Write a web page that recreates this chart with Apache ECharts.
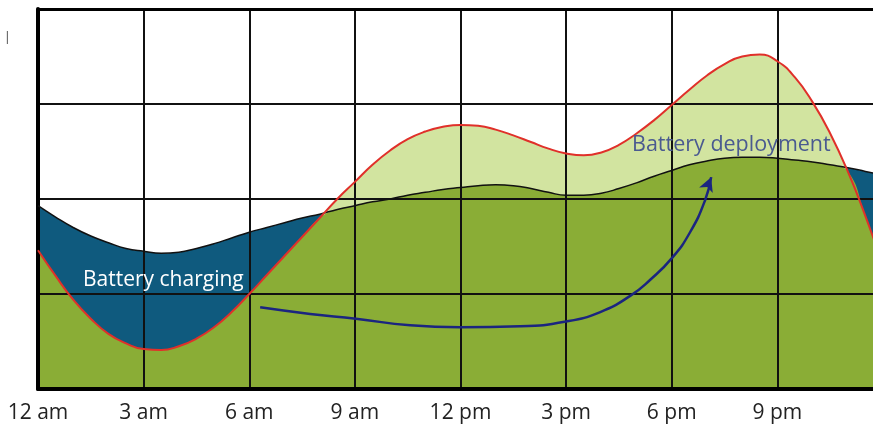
<!DOCTYPE html>
<html>
<head>
<meta charset="utf-8">
<script src="https://cdn.jsdelivr.net/npm/echarts@6/dist/echarts.min.js"></script>
<style>
html,body{margin:0;padding:0;background:#ffffff;}
#c{width:873px;height:425px;}
</style>
</head>
<body>
<div id="c"></div>
<script>
// Hours of the day (x values, every half hour)
const hours = [0,0.5,1,1.5,2,2.5,3,3.5,4,4.5,5,5.5,6,6.5,7,7.5,8,8.5,9,9.5,10,10.5,11,11.5,12,
  12.5,13,13.5,14,14.5,15,15.5,16,16.5,17,17.5,18,18.5,19,19.5,20,20.5,21,21.5,22,22.5,23,23.5,24];
// Red curve (demand)
const demand = [1.46,1.19,0.94,0.74,0.58,0.48,0.42,0.41,0.45,0.53,0.65,0.81,1.00,1.20,1.40,1.60,1.80,2.00,2.18,2.36,2.51,2.63,2.71,2.76,2.78,
  2.77,2.73,2.67,2.60,2.53,2.48,2.46,2.49,2.57,2.69,2.83,2.99,3.15,3.30,3.42,3.50,3.52,3.45,3.28,3.02,2.69,2.29,1.82,1.30];
// Black curve (generation)
const generation = [1.93,1.81,1.70,1.61,1.54,1.48,1.45,1.43,1.44,1.48,1.53,1.59,1.65,1.70,1.75,1.80,1.84,1.89,1.93,1.97,2.00,2.04,2.07,2.10,2.12,
  2.14,2.15,2.14,2.11,2.07,2.04,2.04,2.06,2.11,2.17,2.24,2.30,2.36,2.40,2.43,2.44,2.44,2.43,2.41,2.39,2.36,2.33,2.29,2.25];
// Arrow path (annotation)
const arrowX = [6.31,7.73,9.03,10.57,11.99,13.69,15.0,15.97,16.82,17.39,18.01,18.52,18.95,19.12];
const arrowY = [0.86,0.79,0.74,0.67,0.65,0.66,0.71,0.81,0.98,1.15,1.38,1.65,1.99,2.23];
// Tick labels
const tickLabels = ['12 am','3 am','6 am','9 am','12 pm','3 pm','6 pm','9 pm'];

const pair = (xs, ys) => xs.map((x,i)=>[x, ys[i]]);
const lower = demand.map((d,i)=>Math.min(d, generation[i]));

const SM = 0.5;
const chart = echarts.init(document.getElementById('c'), null, {renderer:'canvas'});
const arrowData = pair(arrowX, arrowY).map((p,i,arr)=> i===arr.length-1
  ? {value:p, symbol:'arrow', symbolSize:[11,14], symbolRotate:-22, itemStyle:{color:'#1b2580'}}
  : {value:p, symbol:'none'});

chart.setOption({
  animation:false,
  backgroundColor:'#ffffff',
  grid:{left:38, top:9, width:845, bottom:36, outerBoundsMode:'none', containLabel:false},
  xAxis:[{
    type:'value', min:0, max:24, interval:3, z:3,
    axisLine:{show:true, lineStyle:{color:'#000', width:4}},
    axisTick:{show:false},
    splitLine:{show:true, lineStyle:{color:'#111', width:2}},
    axisLabel:{margin:14, color:'#222', fontSize:21, fontFamily:'Open Sans',
      formatter:(v)=> tickLabels[v/3] || ''}
  },{
    type:'value', position:'top', min:0, max:24, z:3,
    axisLine:{show:true, lineStyle:{color:'#000', width:3}},
    axisTick:{show:false}, axisLabel:{show:false}, splitLine:{show:false}
  }],
  yAxis:{
    type:'value', min:0, max:4, interval:1, z:3,
    axisLine:{show:true, lineStyle:{color:'#000', width:4}},
    axisTick:{show:false}, axisLabel:{show:false},
    splitLine:{show:true, lineStyle:{color:'#111', width:2}}
  },
  series:[
    {type:'line', data:pair(hours, generation), smooth:SM, symbol:'none', z:1,
      lineStyle:{width:0}, areaStyle:{color:'#0f5a7e', opacity:1}},
    {type:'line', data:pair(hours, demand), smooth:SM, symbol:'none', z:1,
      lineStyle:{width:0}, areaStyle:{color:'#d2e4a0', opacity:1}},
    {type:'line', data:pair(hours, lower), smooth:SM, symbol:'none', z:1,
      lineStyle:{width:0}, areaStyle:{color:'#8aad36', opacity:1}},
    {type:'line', data:pair(hours, generation), smooth:SM, symbol:'none', z:4,
      lineStyle:{color:'#111', width:1.5}},
    {type:'line', data:pair(hours, demand), smooth:SM, symbol:'none', z:4,
      lineStyle:{color:'#e0302a', width:2}},
    {type:'line', data:arrowData, smooth:0.5, z:5,
      lineStyle:{color:'#1b2580', width:2.5}}
  ],
  graphic:[
    {type:'text', x:83, y:280, z:10, style:{text:'Battery charging', fill:'#ffffff',
      font:'21px "Open Sans"', verticalAlign:'middle'}},
    {type:'text', x:632, y:145, z:10, style:{text:'Battery deployment', fill:'#4a5a90',
      font:'21.5px "Open Sans"', verticalAlign:'middle'}},
    {type:'text', x:4, y:38, z:10, style:{text:'|', fill:'#333',
      font:'12px "Open Sans"', verticalAlign:'middle'}}
  ]
});
</script>
</body>
</html>
